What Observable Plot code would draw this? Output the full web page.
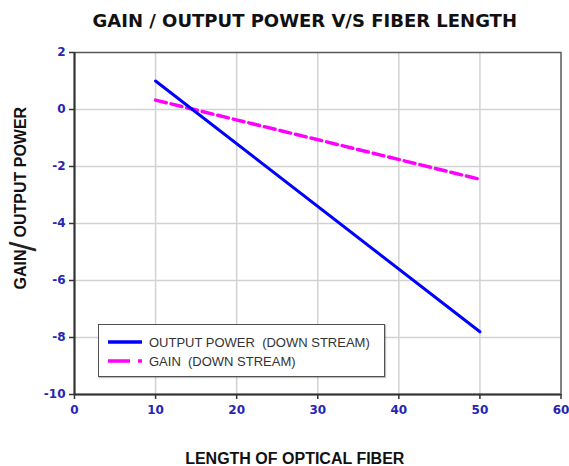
<!DOCTYPE html>
<html>
<head>
<meta charset="utf-8">
<script src="https://cdn.jsdelivr.net/npm/d3@7"></script>
<script src="https://cdn.jsdelivr.net/npm/@observablehq/plot@0.6"></script>
<style>
  html, body { margin: 0; padding: 0; background: #fff; }
  #wrap { position: relative; width: 569px; height: 466px; }
  #legend {
    position: absolute; left: 98px; top: 324px; width: 287px; height: 53px;
    background: #fff; border: 1.5px solid #505050; box-sizing: border-box;
    box-shadow: 1px 1px 1px rgba(0,0,0,0.25);
    font-family: "Liberation Sans", Arial, sans-serif; font-size: 13px; color: #333;
  }
  #legend .row { position: absolute; left: 8px; height: 16px; display: flex; align-items: center; white-space: pre; }
  #legend svg { margin-right: 6px; }
</style>
</head>
<body>
<div id="wrap"></div>
<script>
// ---- data ----
const xTicks = [0, 10, 20, 30, 40, 50, 60];
const yTicks = [-10, -8, -6, -4, -2, 0, 2];
const fiberLength = [10, 50];
const outputPower = [1.0, -7.8];
const gain = [0.33, -2.45];
const seriesNames = ["OUTPUT POWER  (DOWN STREAM)", "GAIN  (DOWN STREAM)"];
const seriesColors = ["#0000ff", "#ff00ff"];
const titleText = "GAIN / OUTPUT POWER V/S FIBER LENGTH";
const xLabel = "LENGTH OF OPTICAL FIBER";

const powerData = fiberLength.map((x, i) => ({x, y: outputPower[i]}));
const gainData = fiberLength.map((x, i) => ({x, y: gain[i]}));

const tickColor = "#2626b4";

const chart = Plot.plot({
  width: 569,
  height: 466,
  marginLeft: 74,
  marginRight: 8.5,
  marginTop: 52,
  marginBottom: 72,
  style: {background: "white", fontFamily: "'Liberation Sans', Arial, sans-serif", overflow: "visible"},
  x: {domain: [0, 60]},
  y: {domain: [-10, 2]},
  marks: [
    Plot.gridX(xTicks.slice(1, -1), {stroke: "#d2d2d2", strokeOpacity: 1, strokeWidth: 1.5}),
    Plot.gridY(yTicks.slice(1, -1), {stroke: "#d2d2d2", strokeOpacity: 1, strokeWidth: 1.5}),
    Plot.frame({stroke: "#5a5a5a", strokeWidth: 1.5}),
    Plot.ruleX([0], {stroke: "#333", strokeWidth: 2}),
    Plot.ruleY([-10], {stroke: "#333", strokeWidth: 2}),
    Plot.axisX(xTicks, {tickSize: 5, tickPadding: 6, stroke: "#333", strokeWidth: 1.5, fill: tickColor,
      fontWeight: "bold", fontSize: 12, fontFamily: "'DejaVu Sans', sans-serif", label: null, tickFormat: d => String(d)}),
    Plot.axisY(yTicks, {tickSize: 5, tickPadding: 4, stroke: "#333", strokeWidth: 1.5, fill: tickColor,
      fontWeight: "bold", fontSize: 12, fontFamily: "'DejaVu Sans', sans-serif", label: null, tickFormat: d => String(d)}),
    Plot.line(gainData, {x: "x", y: "y", stroke: seriesColors[1], strokeWidth: 3.5, strokeDasharray: "11,5"}),
    Plot.line(powerData, {x: "x", y: "y", stroke: seriesColors[0], strokeWidth: 3}),
    Plot.text([titleText], {frameAnchor: "top", dx: -13, dy: -26, lineAnchor: "bottom", text: d => d,
      fontFamily: "'DejaVu Sans', sans-serif", fontWeight: "bold", fontSize: 18, letterSpacing: "0.4px", fill: "#111"}),
    Plot.text([xLabel], {frameAnchor: "bottom", dx: -23, dy: 69, lineAnchor: "bottom", text: d => d,
      fontWeight: "bold", fontSize: 16, fill: "#111", letterSpacing: "-0.3px"}),
    Plot.text(["GAIN"], {frameAnchor: "left", dx: -54, dy: 66, rotate: -90, textAnchor: "start", text: d => d,
      fontWeight: "bold", fontSize: 16, fill: "#111"}),
    Plot.text(["/"], {frameAnchor: "left", dx: -50, dy: 23, rotate: -90, textAnchor: "middle", text: d => d,
      fontWeight: "normal", fontSize: 36, fill: "#222"}),
    Plot.text(["OUTPUT POWER"], {frameAnchor: "left", dx: -54, dy: 14, rotate: -90, textAnchor: "start", text: d => d,
      fontWeight: "bold", fontSize: 16, fill: "#111"})
  ]
});

const wrap = document.getElementById("wrap");
wrap.appendChild(chart);

// legend overlay
const legend = document.createElement("div");
legend.id = "legend";
const rows = [
  {name: seriesNames[0], color: seriesColors[0], dash: null, top: 9},
  {name: seriesNames[1], color: seriesColors[1], dash: "22,8", top: 28}
];
for (const r of rows) {
  const row = document.createElement("div");
  row.className = "row";
  row.style.top = r.top + "px";
  const sw = d3.create("svg").attr("width", 36).attr("height", 8);
  sw.append("line").attr("x1", 1).attr("x2", 35).attr("y1", 4).attr("y2", 4)
    .attr("stroke", r.color).attr("stroke-width", 3.5)
    .attr("stroke-dasharray", r.dash);
  row.appendChild(sw.node());
  const t = document.createElement("span");
  t.textContent = r.name;
  row.appendChild(t);
  legend.appendChild(row);
}
wrap.appendChild(legend);
</script>
</body>
</html>
